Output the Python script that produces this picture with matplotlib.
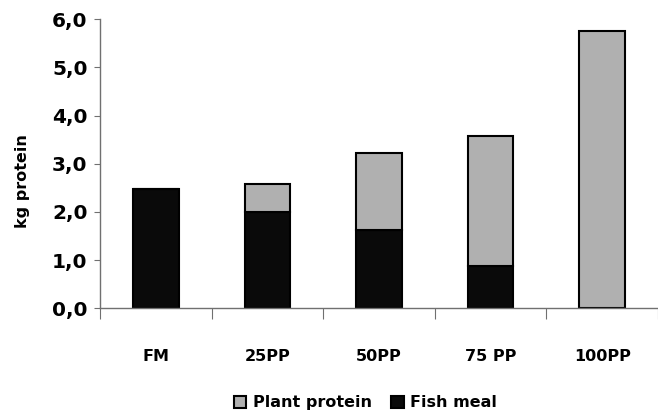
import matplotlib
matplotlib.use("Agg")
import matplotlib.pyplot as plt
from matplotlib.ticker import FuncFormatter

# diets and protein sources (kg protein)
diets = ["FM", "25PP", "50PP", "75 PP", "100PP"]
fish_meal = [2.48, 1.99, 1.63, 0.88, 0.0]
plant_protein = [0.0, 0.60, 1.60, 2.70, 5.75]

fig = plt.figure(figsize=(6.58, 4.18), dpi=100)
ax = fig.add_axes([0.152, 0.262, 0.848, 0.6925])

x = range(len(diets))
ax.bar(x, fish_meal, width=0.41, color="#0a0a0a", edgecolor="black",
       linewidth=1.5, label="Fish meal")
ax.bar(x, plant_protein, width=0.41, bottom=fish_meal, color="#b0b0b0",
       edgecolor="black", linewidth=1.5, label="Plant protein")

ax.set_xlim(-0.5, len(diets) - 0.5)
ax.set_ylim(0, 6)
ax.set_yticks([0, 1, 2, 3, 4, 5, 6])
ax.yaxis.set_major_formatter(FuncFormatter(lambda v, p: f"{v:.1f}".replace(".", ",")))
ax.set_xticks([i + 0.5 for i in range(-1, len(diets))], minor=False)
ax.set_xticklabels([])
ax.set_xticks(list(x), minor=True)
ax.set_xticklabels(diets, minor=True, fontsize=11.5, fontweight="bold")
ax.tick_params(axis="x", which="minor", length=0, pad=29)
ax.tick_params(axis="x", which="major", length=8, direction="out", color="#707070")
ax.tick_params(axis="y", length=4, direction="out", color="#707070",
               labelsize=14.5, pad=5)
for lab in ax.get_yticklabels():
    lab.set_fontweight("bold")

for s in ["top", "right"]:
    ax.spines[s].set_visible(False)
for s in ["left", "bottom"]:
    ax.spines[s].set_color("#707070")
    ax.spines[s].set_linewidth(1.0)

ax.set_ylabel("kg protein", fontsize=11.5, fontweight="bold")
ax.yaxis.set_label_coords(-0.125, 0.44)

handles, labels = ax.get_legend_handles_labels()
fig.legend(handles[::-1], labels[::-1], loc="center", ncol=2,
           bbox_to_anchor=(0.555, 0.036), frameon=False,
           prop={"size": 11.5, "weight": "bold"}, handlelength=0.8,
           handleheight=0.8, columnspacing=1.2, handletextpad=0.4)

fig.savefig("out.png", dpi=100)
